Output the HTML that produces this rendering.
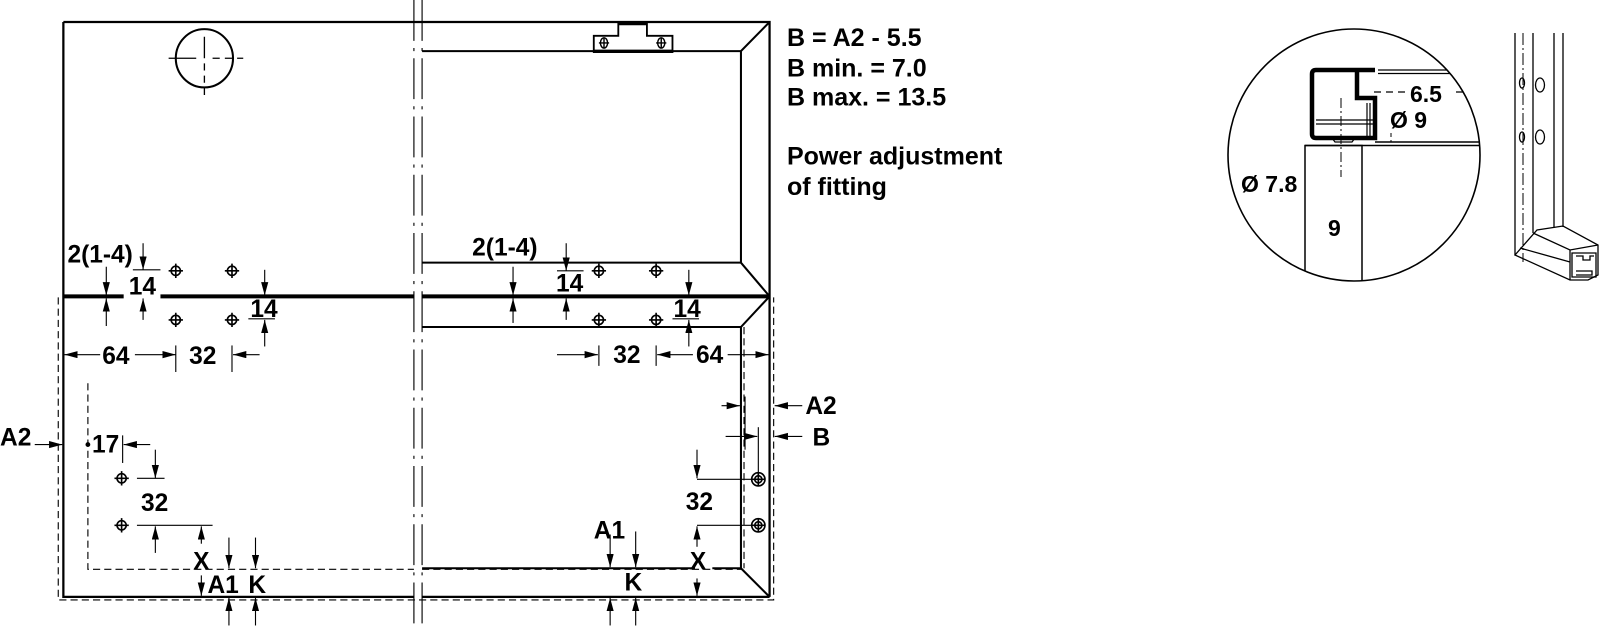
<!DOCTYPE html>
<html><head><meta charset="utf-8"><style>
html,body{margin:0;padding:0;background:#fff;}
svg{display:block;}
text{font-family:"Liberation Sans",Arial,sans-serif;font-weight:bold;fill:#000;}
</style></head><body>
<svg width="1600" height="629" viewBox="0 0 1600 629" xmlns="http://www.w3.org/2000/svg">
<defs>
<marker id="a" markerUnits="userSpaceOnUse" markerWidth="14" markerHeight="8" refX="13" refY="3.5" orient="auto"><path d="M0,0 L13,3.5 L0,7 z" fill="#000"/></marker>
<clipPath id="cc"><circle cx="1354" cy="155" r="126"/></clipPath>
</defs>
<g transform="scale(1.022)" stroke="#000" fill="none" stroke-width="1.3">
<path d="M62,21.5 H753 V584 M62,21.5 V584 H405 M413,584 H753" stroke-width="2.2"/>
<g stroke-dasharray="40 7 3 7" stroke-width="1.1">
<line x1="405" y1="0" x2="405" y2="615"/><line x1="413" y1="0" x2="413" y2="615"/>
</g>
<path d="M413,50 H725 L753,21.5 M725,50 V257 H413 M725,257 L753,290 M413,320 H725 L753,290 M725,320 V556 H697 M680,556 H413 M725,556 L753,584" stroke-width="2"/>
<path d="M62,290 H121 M157,290 H405 M413,290 H753" stroke-width="4"/>
<g stroke-dasharray="7 4" stroke-width="1.1">
<path d="M57,291 V587 H757 V291"/>
<path d="M86,375 V557 H405 M413,557 H725"/>
<path d="M728,320 V556"/>
</g>
<ellipse cx="200" cy="57" rx="28" ry="28.5" stroke-width="2"/>
<path d="M165,57 H192 M200,36 V57"/>
<path d="M208,57 H238 M200,62 V93" stroke-dasharray="7 5"/>
<path d="M605,35 V23 H633 V35 H658 V51 H581 V35 Z" stroke-width="1.8"/>
<line x1="605" y1="23" x2="633" y2="23" stroke-width="3.5"/>
<line x1="581" y1="50" x2="658" y2="50" stroke-width="3"/>
<g stroke-width="1.4"><ellipse cx="591" cy="42" rx="3.5" ry="5"/><ellipse cx="647" cy="42" rx="3.5" ry="5"/>
<path d="M586,42 H596 M591,37 V47 M642,42 H652 M647,37 V47"/></g>
<g stroke-width="1.6">
<circle cx="172" cy="265" r="4.5"/><circle cx="227" cy="265" r="4.5"/><circle cx="172" cy="313" r="4.5"/><circle cx="227" cy="313" r="4.5"/>
<circle cx="586" cy="265" r="4.5"/><circle cx="642" cy="265" r="4.5"/><circle cx="586" cy="313" r="4.5"/><circle cx="642" cy="313" r="4.5"/>
<circle cx="119" cy="468" r="4.5"/><circle cx="119" cy="514" r="4.5"/>
<path d="M165,265 H179 M172,258 V272 M220,265 H234 M227,258 V272 M165,313 H179 M172,306 V320 M220,313 H234 M227,306 V320 M579,265 H593 M586,258 V272 M635,265 H649 M642,258 V272 M579,313 H593 M586,306 V320 M635,313 H649 M642,306 V320 M112,468 H126 M119,461 V475 M112,514 H126 M119,507 V521"/>
<circle cx="742" cy="469" r="6.5"/><circle cx="742" cy="469" r="3.5"/><circle cx="742" cy="514" r="6.5"/><circle cx="742" cy="514" r="3.5"/>
<path d="M735,469 H749 M742,462 V476 M735,514 H749 M742,507 V521"/>
</g>
<g stroke-width="1.1">
<line x1="104" y1="261" x2="104" y2="289" marker-end="url(#a)"/>
<line x1="104" y1="319" x2="104" y2="292" marker-end="url(#a)"/>
<line x1="140" y1="238" x2="140" y2="264" marker-end="url(#a)"/>
<line x1="130" y1="264" x2="157" y2="264"/>
<line x1="140" y1="313" x2="140" y2="292" marker-end="url(#a)"/>
<line x1="259" y1="264" x2="259" y2="289" marker-end="url(#a)"/>
<line x1="243" y1="312" x2="269" y2="312"/>
<line x1="259" y1="339" x2="259" y2="313" marker-end="url(#a)"/>
<line x1="98" y1="347" x2="63" y2="347" marker-end="url(#a)"/>
<line x1="132" y1="347" x2="172" y2="347" marker-end="url(#a)"/>
<line x1="172" y1="338" x2="172" y2="364"/>
<line x1="227" y1="338" x2="227" y2="364"/>
<line x1="254" y1="347" x2="228" y2="347" marker-end="url(#a)"/>
<line x1="34" y1="435" x2="61" y2="435" marker-end="url(#a)"/>
<circle cx="86" cy="435" r="1.8" fill="#000"/>
<line x1="120" y1="426" x2="120" y2="453"/>
<line x1="147" y1="435" x2="121" y2="435" marker-end="url(#a)"/>
<line x1="152" y1="440" x2="152" y2="468" marker-end="url(#a)"/>
<line x1="134" y1="468" x2="161" y2="468"/>
<line x1="134" y1="514" x2="208" y2="514"/>
<line x1="152" y1="541" x2="152" y2="515" marker-end="url(#a)"/>
<line x1="197" y1="532" x2="197" y2="515" marker-end="url(#a)"/>
<line x1="197" y1="563" x2="197" y2="583" marker-end="url(#a)"/>
<line x1="224" y1="526" x2="224" y2="556" marker-end="url(#a)"/>
<line x1="250" y1="526" x2="250" y2="556" marker-end="url(#a)"/>
<line x1="224" y1="612" x2="224" y2="585" marker-end="url(#a)"/>
<line x1="250" y1="612" x2="250" y2="585" marker-end="url(#a)"/>
<line x1="502" y1="261" x2="502" y2="289" marker-end="url(#a)"/>
<line x1="502" y1="316" x2="502" y2="292" marker-end="url(#a)"/>
<line x1="554" y1="238" x2="554" y2="265" marker-end="url(#a)"/>
<line x1="545" y1="265" x2="571" y2="265"/>
<line x1="554" y1="313" x2="554" y2="292" marker-end="url(#a)"/>
<line x1="674" y1="264" x2="674" y2="289" marker-end="url(#a)"/>
<line x1="658" y1="312" x2="684" y2="312"/>
<line x1="674" y1="339" x2="674" y2="313" marker-end="url(#a)"/>
<line x1="545" y1="347" x2="585" y2="347" marker-end="url(#a)"/>
<line x1="586" y1="338" x2="586" y2="358"/>
<line x1="642" y1="338" x2="642" y2="358"/>
<line x1="678" y1="347" x2="643" y2="347" marker-end="url(#a)"/>
<line x1="712" y1="347" x2="752" y2="347" marker-end="url(#a)"/>
<line x1="706" y1="397" x2="724" y2="397" marker-end="url(#a)"/>
<line x1="729" y1="388" x2="729" y2="440"/>
<line x1="785" y1="397" x2="758" y2="397" marker-end="url(#a)"/>
<line x1="710" y1="427" x2="741" y2="427" marker-end="url(#a)"/>
<line x1="742" y1="418" x2="742" y2="462"/>
<line x1="785" y1="427" x2="758" y2="427" marker-end="url(#a)"/>
<line x1="682" y1="440" x2="682" y2="468" marker-end="url(#a)"/>
<line x1="682" y1="469" x2="735" y2="469"/>
<line x1="682" y1="514" x2="735" y2="514"/>
<line x1="682" y1="535" x2="682" y2="515" marker-end="url(#a)"/>
<line x1="682" y1="566" x2="682" y2="583" marker-end="url(#a)"/>
<line x1="597" y1="523" x2="597" y2="555" marker-end="url(#a)"/>
<line x1="622" y1="520" x2="622" y2="555" marker-end="url(#a)"/>
<line x1="597" y1="612" x2="597" y2="585" marker-end="url(#a)"/>
<line x1="622" y1="612" x2="622" y2="585" marker-end="url(#a)"/>
</g>
<g stroke="none" font-size="24">
<text x="66" y="257">2(1-4)</text>
<text x="126" y="288">14</text>
<text x="245" y="310">14</text>
<text x="100" y="356">64</text>
<text x="185" y="356">32</text>
<text x="0" y="436">A2</text>
<text x="90" y="443">17</text>
<text x="138" y="500">32</text>
<text x="189" y="557">X</text>
<text x="203" y="580">A1</text>
<text x="243" y="580">K</text>
<text x="462" y="250">2(1-4)</text>
<text x="544" y="285">14</text>
<text x="659" y="310">14</text>
<text x="600" y="355">32</text>
<text x="681" y="355">64</text>
<text x="788" y="405">A2</text>
<text x="795" y="436">B</text>
<text x="671" y="499">32</text>
<text x="675" y="557">X</text>
<text x="581" y="527">A1</text>
<text x="611" y="578">K</text>
<g font-size="24.5">
<text x="770" y="45">B = A2 - 5.5</text>
<text x="770" y="75">B min. = 7.0</text>
<text x="770" y="103">B max. = 13.5</text>
<text x="770" y="161">Power adjustment</text>
<text x="770" y="191">of fitting</text>
</g>
</g>
</g>
<g stroke="#000" fill="none">
<g clip-path="url(#cc)">
<path d="M1378,70 H1490 M1378,73.5 H1490" stroke-width="1.3"/>
<path d="M1375,142 H1490 M1305,145.5 H1490" stroke-width="1.5"/>
<rect x="1305" y="145.5" width="57" height="140" stroke-width="1.5"/>
<path d="M1374,92 H1406 M1456,92 H1490" stroke-dasharray="7 5" stroke-width="1.3"/>
<path d="M1391,133 V142" stroke-dasharray="4 3" stroke-width="1"/>
</g>
<path d="M1375,70 H1316 Q1312,70 1312,74 V134 Q1312,138 1316,138 H1375 V98 H1357 V72" stroke-width="4.5"/>
<path d="M1316,120 H1373 M1316,124 H1373 M1370,103 V136 M1367,103 V136" stroke-width="1.2"/>
<path d="M1332,138 L1335,142 H1352 L1355,138" stroke-width="1.2"/>
<path d="M1341,98 V177" stroke-dasharray="10 3 2 3" stroke-width="1"/>
<circle cx="1354" cy="155" r="126" stroke-width="1.6"/>
<g stroke-width="1.3">
<path d="M1515,33 V255 M1533,33 V233 M1554,33 V228 M1563,33 V227"/>
<path d="M1523,33 V262" stroke-dasharray="12 3 2 3" stroke-width="1"/>
<ellipse cx="1522" cy="83" rx="2.5" ry="5"/><ellipse cx="1522" cy="137" rx="2.5" ry="5"/>
<ellipse cx="1540" cy="85" rx="4.5" ry="7"/><ellipse cx="1540" cy="137" rx="4.5" ry="7"/>
<path d="M1515,255 L1537,230 L1563,226 L1598,245 V275 L1588,280 H1570 L1515,255 Z"/>
<path d="M1533,233 L1570,250 L1598,245 M1570,250 V280 M1520,248 L1570,262"/>
<path d="M1572,253 H1596 V277 H1572 Z M1576,256 H1583 V260 H1590 V256 H1594 M1576,271 H1592 V275 H1576"/>
</g>
</g>
<g font-family="Liberation Sans, Arial, sans-serif" font-weight="bold" font-size="23">
<text x="1410" y="102">6.5</text>
<text x="1390" y="128">Ø 9</text>
<text x="1241" y="192">Ø 7.8</text>
<text x="1328" y="236">9</text>
</g>
</svg>
</body></html>
